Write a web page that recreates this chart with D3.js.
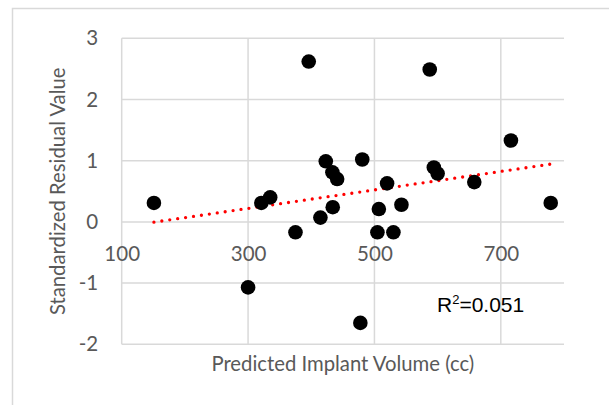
<!DOCTYPE html>
<html>
<head>
<meta charset="utf-8">
<script src="https://cdn.jsdelivr.net/npm/d3@7"></script>
<style>
  body { margin: 0; background: #fff; }
  svg { display: block; }
</style>
</head>
<body>
<div id="chartbox"></div>
<script>
// predicted implant volume (cc) and standardized residual for each case
var predVolume = [151, 300, 321, 335, 375, 396, 414.5, 423, 433.5, 441, 434, 480.7,
                  477.7, 504.7, 507, 520, 530, 542.7, 587.5, 594, 600, 658, 716, 779];
var residual = [0.31, -1.07, 0.31, 0.40, -0.17, 2.62, 0.07, 0.99, 0.81, 0.70, 0.24, 1.02,
                -1.65, -0.17, 0.21, 0.63, -0.17, 0.28, 2.49, 0.89, 0.79, 0.65, 1.33, 0.31];
var xTicks = [100, 300, 500, 700];
var yTicks = [-2, -1, 0, 1, 2, 3];
var xTitle = "Predicted Implant Volume (cc)";
var yTitle = "Standardized Residual Value";
var r2Label = "0.051";

var points = predVolume.map((v, i) => ({ x: v, y: residual[i] }));

var W = 609, H = 405;
var margin = { top: 38.3, right: 45, bottom: 60.7, left: 121.7 },
    width = W - margin.left - margin.right,
    height = H - margin.top - margin.bottom;

var svg = d3.select('#chartbox').append('svg')
    .attr('width', W)
    .attr('height', H);

// chart area border (runs off the right / bottom of the crop)
svg.append('rect')
    .attr('x', 12.5).attr('y', 8.5)
    .attr('width', 800).attr('height', 600)
    .attr('fill', 'none')
    .attr('stroke', '#d9d9d9')
    .attr('stroke-width', 1.5);

var g = svg.append('g')
    .attr('transform', 'translate(' + [margin.left, margin.top] + ')');

var x = d3.scaleLinear().domain([100, 800]).range([0, width]);
var y = d3.scaleLinear().domain([-2, 3]).range([height, 0]);

var font = "Lato, 'Open Sans', sans-serif";
var grey = '#595959';

// gridlines
g.append('g').selectAll('line.h')
    .data(yTicks)
    .enter().append('line')
    .attr('x1', 0).attr('x2', width)
    .attr('y1', d => y(d)).attr('y2', d => y(d))
    .attr('stroke', '#d9d9d9').attr('stroke-width', 1.5);
g.append('g').selectAll('line.v')
    .data(xTicks)
    .enter().append('line')
    .attr('x1', d => x(d)).attr('x2', d => x(d))
    .attr('y1', 0).attr('y2', height)
    .attr('stroke', '#d9d9d9').attr('stroke-width', 1.5);

// axes (labels only), plain hyphen for negatives like the original
var yAxis = g.append('g')
    .call(d3.axisLeft(y).tickValues(yTicks).tickSize(0).tickPadding(23.5).tickFormat(d => String(d)));
var xAxis = g.append('g')
    .attr('transform', 'translate(0,' + y(0) + ')')
    .call(d3.axisBottom(x).tickValues(xTicks).tickSize(0).tickPadding(25).tickFormat(d => String(d)));
[xAxis, yAxis].forEach(function (a) {
  a.select('.domain').remove();
  a.selectAll('text')
      .attr('fill', grey)
      .style('font-family', font)
      .style('font-size', '20.5px');
});

// linear trendline from least squares
var mx = d3.mean(points, d => d.x), my = d3.mean(points, d => d.y);
var sxy = d3.sum(points, d => (d.x - mx) * (d.y - my));
var sxx = d3.sum(points, d => (d.x - mx) * (d.x - mx));
var slope = sxy / sxx, icpt = my - slope * mx;
var ext = d3.extent(predVolume);
var trend = ext.map(v => ({ x: v, y: icpt + slope * v }));

g.append('path')
    .datum(trend)
    .attr('d', d3.line().x(d => x(d.x)).y(d => y(d.y)))
    .attr('fill', 'none')
    .attr('stroke', '#ff0000')
    .attr('stroke-width', 3.3)
    .attr('stroke-linecap', 'round')
    .attr('stroke-dasharray', '0,8');

// points
g.selectAll('circle')
    .data(points)
    .enter().append('circle')
    .attr('cx', d => x(d.x))
    .attr('cy', d => y(d.y))
    .attr('r', 7.3)
    .attr('fill', '#000');

// R squared label
var r2 = g.append('text')
    .attr('x', 437 - margin.left)
    .attr('y', 312 - margin.top)
    .attr('fill', '#000')
    .style('font-family', "'Liberation Sans', Arial, sans-serif")
    .style('font-size', '21px');
r2.append('tspan').text('R');
r2.append('tspan').attr('dy', -8).style('font-size', '13px').text('2');
r2.append('tspan').attr('dy', 8).text('=' + r2Label);

// axis titles
svg.append('text')
    .attr('x', margin.left + width / 2)
    .attr('y', 371)
    .attr('text-anchor', 'middle')
    .attr('fill', grey)
    .style('font-family', font)
    .style('font-size', '20.3px')
    .text(xTitle);
svg.append('text')
    .attr('transform', 'translate(65,' + (margin.top + height / 2) + ') rotate(-90)')
    .attr('text-anchor', 'middle')
    .attr('fill', grey)
    .style('font-family', font)
    .style('font-size', '20.3px')
    .text(yTitle);
</script>
</body>
</html>
